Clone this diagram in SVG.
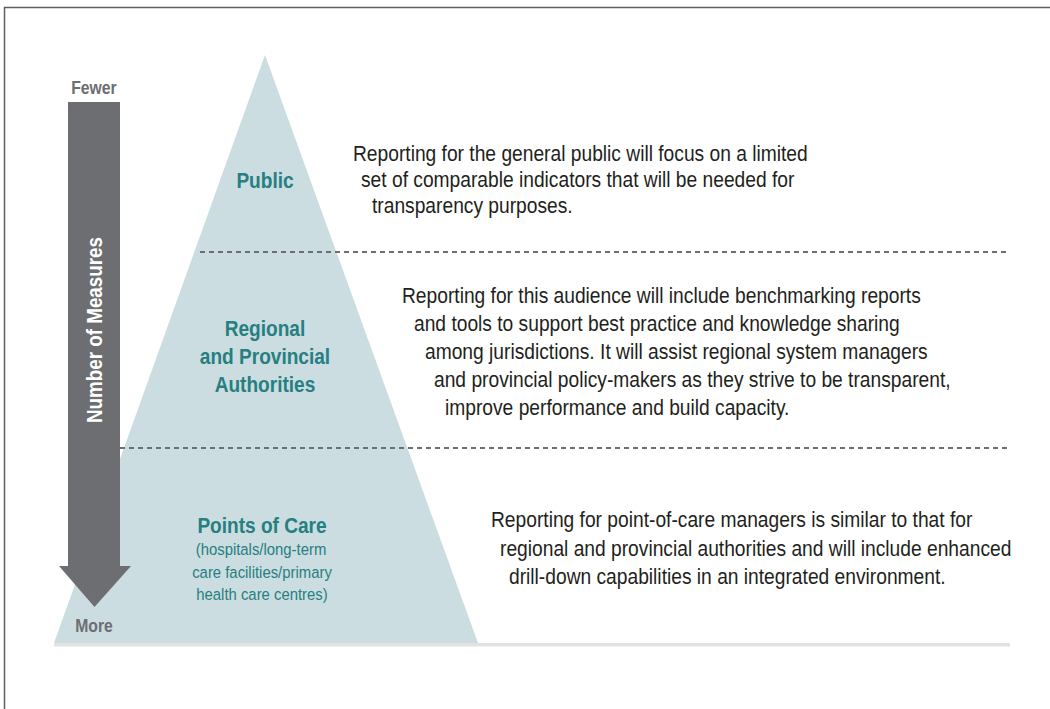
<svg xmlns="http://www.w3.org/2000/svg" width="1050" height="709" viewBox="0 0 1050 709">
  <style>
    text { font-family: "Liberation Sans", Arial, sans-serif; }
    .body { font-size: 22px; fill: #231f20; }
    .tier { font-size: 21.8px; font-weight: bold; fill: #267f80; text-anchor: middle; }
    .tiersub { font-size: 17px; fill: #267f80; text-anchor: middle; }
    .axis { font-size: 18px; font-weight: bold; fill: #6d6e71; text-anchor: middle; }
    .axisw { font-size: 21.5px; font-weight: bold; fill: #ffffff; text-anchor: middle; }
    .dash { stroke: #6d6e71; stroke-width: 2; stroke-dasharray: 5 4; fill: none; }
  </style>
  <rect x="0" y="0" width="1050" height="709" fill="#ffffff"/>
  <rect x="4.5" y="7.5" width="1100" height="800" fill="none" stroke="#5f5f5f" stroke-width="1.5"/>

  <g id="pyramid">
    <polygon points="265,55 54,643 478,643" fill="#cbdde1"/>
    <rect x="54" y="643" width="956" height="3.5" fill="#e2e2e2"/>
  </g>

  <g id="connectors">
    <line class="dash" x1="200" y1="252" x2="1010" y2="252"/>
    <line class="dash" x1="120" y1="448" x2="1010" y2="448"/>
  </g>

  <g id="measures-arrow">
    <rect x="68" y="102" width="52" height="465" fill="#6d6e71"/>
    <polygon points="59,566 131,566 94.5,607" fill="#6d6e71"/>
    <text class="axisw" transform="translate(101.5,330) rotate(-90) scale(0.875,1)">Number of Measures</text>
    <text class="axis" transform="translate(94,94) scale(0.875,1)">Fewer</text>
    <text class="axis" transform="translate(94,632) scale(0.875,1)">More</text>
  </g>

  <g id="tier-public">
    <text class="tier" transform="translate(265,188) scale(0.875,1)">Public</text>
  </g>
  <g id="tier-regional">
    <text class="tier" transform="translate(265,336) scale(0.875,1)">Regional</text>
    <text class="tier" transform="translate(265,364) scale(0.875,1)">and Provincial</text>
    <text class="tier" transform="translate(265,392) scale(0.875,1)">Authorities</text>
  </g>
  <g id="tier-points-of-care">
    <text class="tier" transform="translate(262,533) scale(0.875,1)">Points of Care</text>
    <text class="tiersub" transform="translate(261,555) scale(0.875,1)">(hospitals/long-term</text>
    <text class="tiersub" transform="translate(262,578) scale(0.875,1)">care facilities/primary</text>
    <text class="tiersub" transform="translate(262,600) scale(0.875,1)">health care centres)</text>
  </g>

  <g id="desc-public">
    <text class="body" transform="translate(353,161) scale(0.8735,1)">Reporting for the general public will focus on a limited</text>
    <text class="body" transform="translate(361,187) scale(0.8735,1)">set of comparable indicators that will be needed for</text>
    <text class="body" transform="translate(372,213) scale(0.8735,1)">transparency purposes.</text>
  </g>
  <g id="desc-regional">
    <text class="body" transform="translate(402,303) scale(0.8735,1)">Reporting for this audience will include benchmarking reports</text>
    <text class="body" transform="translate(414,331) scale(0.8735,1)">and tools to support best practice and knowledge sharing</text>
    <text class="body" transform="translate(425,359) scale(0.8735,1)">among jurisdictions. It will assist regional system managers</text>
    <text class="body" transform="translate(434,387) scale(0.8735,1)">and provincial policy-makers as they strive to be transparent,</text>
    <text class="body" transform="translate(445,415) scale(0.8735,1)">improve performance and build capacity.</text>
  </g>
  <g id="desc-points-of-care">
    <text class="body" transform="translate(491,527) scale(0.8735,1)">Reporting for point-of-care managers is similar to that for</text>
    <text class="body" transform="translate(500,556) scale(0.8735,1)">regional and provincial authorities and will include enhanced</text>
    <text class="body" transform="translate(509,584) scale(0.8735,1)">drill-down capabilities in an integrated environment.</text>
  </g>
</svg>
